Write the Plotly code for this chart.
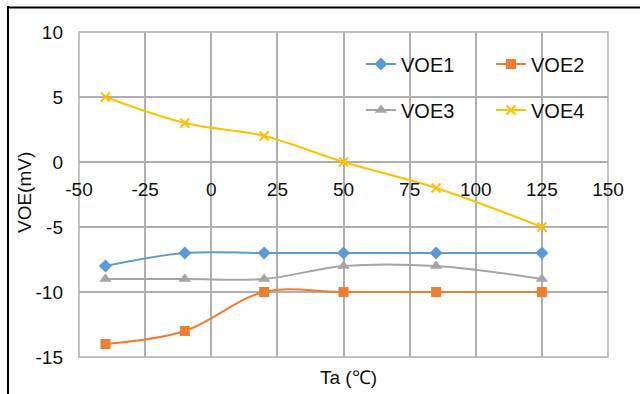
import plotly.graph_objects as go

ta = [-40, -10, 20, 50, 85, 125]
voe1 = [-8, -7, -7, -7, -7, -7]
voe2 = [-14, -13, -10, -10, -10, -10]
voe3 = [-9, -9, -9, -8, -8, -9]
voe4 = [5, 3, 2, 0, -2, -5]

x_ticks = [-50, -25, 0, 25, 50, 75, 100, 125, 150]
x_ticktext = ["-50", "-25", "0", "25", "50", "75", "100", "125", "150"]
y_ticks = [-15, -10, -5, 0, 5, 10]
y_ticktext = ["-15", "-10", "-5", "0", "5", "10"]

series = [
    ("VOE1", voe1, "#5B9BD5", "diamond", 10, "legend"),
    ("VOE2", voe2, "#ED7D31", "square", 10, "legend"),
    ("VOE3", voe3, "#A5A5A5", "triangle-up", 11, "legend2"),
    ("VOE4", voe4, "#FFC000", "x-thin", 9, "legend2"),
]

FONT = "Liberation Sans, Arial, sans-serif"
TXT = "#111111"
GRID = "#AFAFAF"

fig = go.Figure()
for name, ys, col, sym, sz, lg in series:
    marker = dict(symbol=sym, size=sz, color=col)
    if sym == "x-thin":
        marker["line"] = dict(color=col, width=2)
    fig.add_trace(go.Scatter(
        x=ta, y=ys, name=name, mode="lines+markers",
        line=dict(color=col, width=2, shape="spline", smoothing=1),
        marker=marker, legend=lg,
    ))

W, H = 640, 394
L, R, T, B = 79, 32, 32, 37
pw, ph = W - L - R, H - T - B

def px_x(p):
    return (p - L) / pw

def px_y(p):
    return 1 - (p - T) / ph

fig.update_layout(
    width=W, height=H,
    margin=dict(l=L, r=R, t=T, b=B, autoexpand=False),
    paper_bgcolor="white", plot_bgcolor="white",
    font=dict(family=FONT, size=19, color=TXT),
    xaxis=dict(
        range=[-50, 150], tickvals=x_ticks, ticktext=x_ticktext,
        showgrid=True, gridcolor=GRID, gridwidth=1.5,
        zeroline=False, showline=False, ticks="",
        anchor="free", position=0.6,
        ticklabelstandoff=14,
        tickfont=dict(size=19, color=TXT),
    ),
    yaxis=dict(
        range=[-15, 10], tickvals=y_ticks, ticktext=y_ticktext,
        showgrid=True, gridcolor=GRID, gridwidth=1.5,
        zeroline=True, zerolinecolor=GRID, zerolinewidth=1.5,
        showline=False, ticks="",
        ticklabelstandoff=15,
        tickfont=dict(size=19, color=TXT),
    ),
    legend=dict(
        orientation="h", x=px_x(361), y=px_y(64), xanchor="left", yanchor="middle",
        xref="paper", yref="paper",
        font=dict(size=20, color=TXT), bgcolor="rgba(0,0,0,0)",
        entrywidth=85, entrywidthmode="pixels", itemwidth=30,
    ),
    legend2=dict(
        orientation="h", x=px_x(361), y=px_y(110), xanchor="left", yanchor="middle",
        xref="paper", yref="paper",
        font=dict(size=20, color=TXT), bgcolor="rgba(0,0,0,0)",
        entrywidth=85, entrywidthmode="pixels", itemwidth=30,
    ),
    showlegend=True,
)

# plot-area border (gridline coloured)
fig.add_shape(type="rect", xref="paper", yref="paper", x0=0, y0=0, x1=1, y1=1,
              line=dict(color=GRID, width=1.5), layer="below")
# outer chart frame (left and top edges visible)
fig.add_shape(type="line", xref="paper", yref="paper",
              x0=px_x(8), x1=px_x(8), y0=px_y(400), y1=px_y(6),
              line=dict(color="#000000", width=2))
fig.add_shape(type="line", xref="paper", yref="paper",
              x0=px_x(7), x1=px_x(645), y0=px_y(7.5), y1=px_y(7.5),
              line=dict(color="#000000", width=2))

# axis titles
fig.add_annotation(text="VOE(mV)", xref="paper", yref="paper",
                   x=px_x(25), y=px_y(193), xanchor="center", yanchor="middle",
                   textangle=-90, showarrow=False, font=dict(size=19, color=TXT))
fig.add_annotation(text="Ta (℃)", xref="paper", yref="paper",
                   x=px_x(348), y=px_y(377), xanchor="center", yanchor="middle",
                   showarrow=False, font=dict(size=19, color=TXT))

fig.write_html("out.html", config={"displayModeBar": False},
               post_script="document.body.style.margin='0';")
